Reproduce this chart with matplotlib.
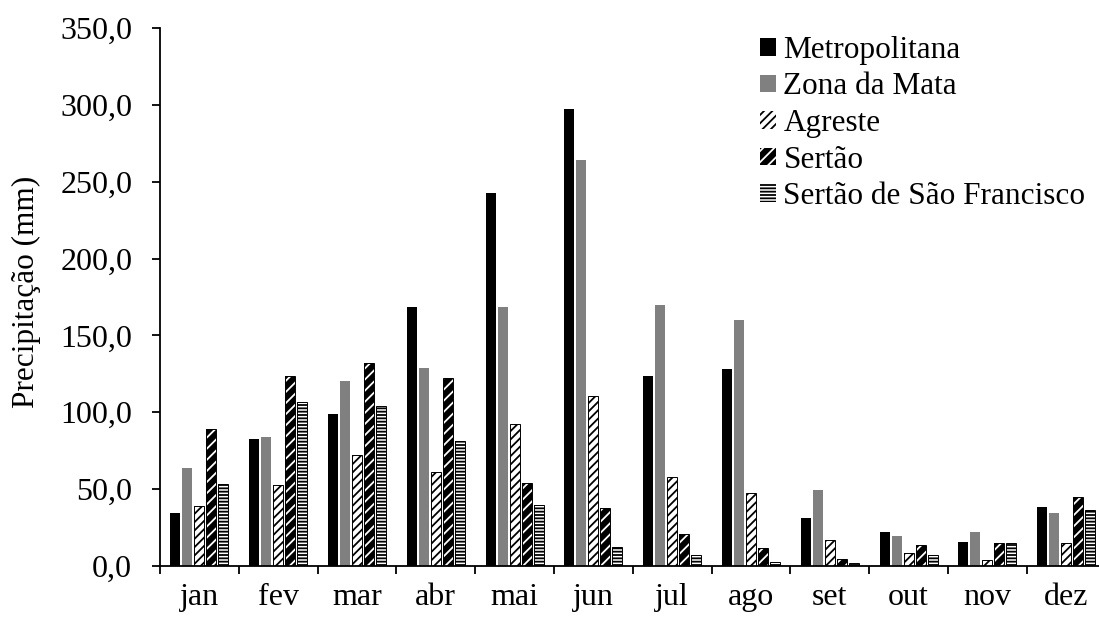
import matplotlib
matplotlib.use("Agg")
import matplotlib.pyplot as plt
import numpy as np
from matplotlib.patches import Patch

# ---------------------------------------------------------------------------
# Data (mm)
# ---------------------------------------------------------------------------
months = ["jan", "fev", "mar", "abr", "mai", "jun",
          "jul", "ago", "set", "out", "nov", "dez"]

metropolitana = [34.2, 82.7, 99.2, 168.7, 242.8, 297.0,
                 123.4, 128.2, 31.1, 22.4, 15.9, 38.3]
zona_da_mata = [63.8, 84.2, 120.3, 129.0, 168.7, 264.3,
                169.7, 160.2, 49.2, 19.8, 22.2, 34.4]
agreste = [38.8, 52.9, 72.2, 61.2, 92.5, 110.7,
           57.6, 47.6, 17.0, 8.3, 3.9, 14.8]
sertao = [88.9, 123.4, 131.9, 122.3, 54.3, 37.6,
          20.7, 11.6, 4.4, 13.5, 15.0, 45.2]
sertao_sf = [53.4, 106.8, 104.0, 81.0, 39.5, 12.4,
             7.0, 2.8, 1.8, 7.2, 14.8, 36.5]

series_names = ["Metropolitana", "Zona da Mata", "Agreste", "Sertão",
                "Sertão de São Francisco"]
yticks = [0, 50, 100, 150, 200, 250, 300, 350]

# ---------------------------------------------------------------------------
# Style
# ---------------------------------------------------------------------------
plt.rcParams["font.family"] = ["Liberation Serif", "DejaVu Serif"]
plt.rcParams["hatch.linewidth"] = 1.3

# (facecolor, hatchcolor, hatch) -- each hatch char = 6 lines per inch
styles = [
    ("black", "black", None),
    ("#808080", "#808080", None),
    ("white", "black", "////"),
    ("black", "white", "///"),
    ("white", "black", "-----"),
]

fig = plt.figure(figsize=(10.99, 6.19), dpi=100)
fig.patch.set_facecolor("white")
ax = fig.add_axes([160 / 1099, 1 - 566 / 619, 945.6 / 1099, 538 / 619])

x = np.arange(len(months))
pitch = 0.152
width = 0.127
all_series = [metropolitana, zona_da_mata, agreste, sertao, sertao_sf]

handles = []
for i, (vals, name, (fc, hc, hatch)) in enumerate(zip(all_series, series_names, styles)):
    pos = x + (i - 2) * pitch
    ax.bar(pos, vals, width=width, color=fc, edgecolor=hc, hatch=hatch,
           linewidth=0, zorder=2)
    if hatch:
        ax.bar(pos, vals, width=width, fill=False, edgecolor="black",
               linewidth=0.7, zorder=3)
    handles.append(Patch(facecolor=fc, edgecolor=hc, hatch=hatch,
                         linewidth=0, label=name))

# ---- axes ----
ax.set_xlim(-0.5, len(months) - 0.5)
ax.set_ylim(0, 350)
for side in ["top", "right"]:
    ax.spines[side].set_visible(False)
for side in ["left", "bottom"]:
    ax.spines[side].set_linewidth(1.3)

ax.set_yticks(yticks)
ax.set_yticklabels([f"{v:.1f}".replace(".", ",") for v in yticks])
ax.tick_params(axis="y", direction="out", length=6, width=1.3, pad=14,
               labelsize=23)

ax.set_xticks(np.arange(len(months) + 1) - 0.5)
ax.set_xticklabels([])
ax.tick_params(axis="x", which="major", direction="out", length=6, width=1.3)
ax.set_xticks(x, minor=True)
ax.set_xticklabels(months, minor=True)
ax.tick_params(axis="x", which="minor", length=0, pad=12, labelsize=23)

ax.set_ylabel("Precipitação (mm)", fontsize=22.5)
ax.yaxis.set_label_coords(-0.1407, 0.509)
ax.yaxis.label.set_verticalalignment("center")

ax.legend(handles=handles, loc="upper left",
          bbox_to_anchor=(760 / 1099, 1 - 36 / 619),
          bbox_transform=fig.transFigure,
          frameon=False, fontsize=22.5, handlelength=0.5, handleheight=0.5,
          handletextpad=0.25, labelspacing=0.24, borderpad=0, borderaxespad=0)

fig.savefig("out.png", dpi=100, facecolor="white")
plt.close(fig)
